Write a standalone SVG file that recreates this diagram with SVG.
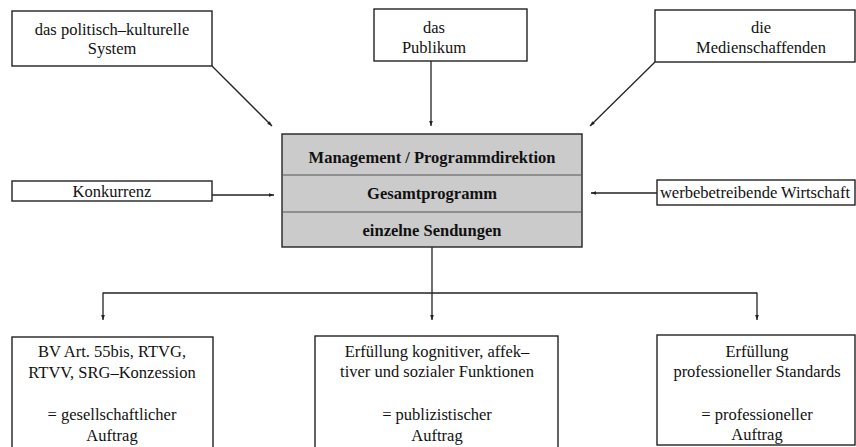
<svg xmlns="http://www.w3.org/2000/svg" width="856" height="447" viewBox="0 0 856 447">
<style>
.box{fill:#fff;stroke:#222;stroke-width:1.4}
.core{fill:#cbcbcb;stroke:#222;stroke-width:1.4}
.div{stroke:#555;stroke-width:1}
.c{fill:none;stroke:#222;stroke-width:1.3}
</style>
<defs>
<marker id="ah" viewBox="0 0 6 6" refX="6" refY="3" markerWidth="5" markerHeight="5" orient="auto" markerUnits="userSpaceOnUse">
<path d="M0,0.8 L6,3 L0,5.2 Z" fill="#222"/>
</marker>
</defs>
<g id="connectors">
<line class="c" x1="212" y1="66" x2="272" y2="126" marker-end="url(#ah)"/>
<line class="c" x1="431" y1="61" x2="431" y2="126" marker-end="url(#ah)"/>
<line class="c" x1="655" y1="62" x2="590" y2="126" marker-end="url(#ah)"/>
<line class="c" x1="212" y1="195" x2="274" y2="195" marker-end="url(#ah)"/>
<line class="c" x1="657" y1="193" x2="591" y2="193" marker-end="url(#ah)"/>
<line class="c" x1="432" y1="247" x2="432" y2="320" marker-end="url(#ah)"/>
<line class="c" x1="103" y1="293" x2="757" y2="293"/>
<line class="c" x1="103" y1="292.4" x2="103" y2="320" marker-end="url(#ah)"/>
<line class="c" x1="757" y1="292.4" x2="757" y2="320" marker-end="url(#ah)"/>
</g>
<g id="politisch">
<rect class="box" x="12" y="11" width="200" height="55"/>
<text x="112" y="35" font-family="Liberation Serif" font-size="16.5" text-anchor="middle" fill="#111">das politisch–kulturelle</text>
<text x="112" y="54" font-family="Liberation Serif" font-size="16.5" text-anchor="middle" fill="#111">System</text>
</g>
<g id="publikum">
<rect class="box" x="374" y="9" width="153" height="52"/>
<text x="434" y="33" font-family="Liberation Serif" font-size="16.5" text-anchor="middle" fill="#111">das</text>
<text x="434" y="53" font-family="Liberation Serif" font-size="16.5" text-anchor="middle" fill="#111">Publikum</text>
</g>
<g id="medienschaffende">
<rect class="box" x="655" y="10" width="200" height="52"/>
<text x="761" y="33" font-family="Liberation Serif" font-size="16.5" text-anchor="middle" fill="#111">die</text>
<text x="761" y="53" font-family="Liberation Serif" font-size="16.5" text-anchor="middle" fill="#111">Medienschaffenden</text>
</g>
<g id="konkurrenz">
<rect class="box" x="12" y="181" width="200" height="20"/>
<text x="112" y="197" font-family="Liberation Serif" font-size="16.5" text-anchor="middle" fill="#111">Konkurrenz</text>
</g>
<g id="wirtschaft">
<rect class="box" x="657" y="180" width="198" height="25"/>
<text x="755" y="198" font-family="Liberation Serif" font-size="16.5" text-anchor="middle" fill="#111">werbebetreibende Wirtschaft</text>
</g>
<g id="zentrum">
<rect class="core" x="282" y="134" width="300" height="113"/>
<line class="div" x1="282" y1="175" x2="582" y2="175"/>
<line class="div" x1="282" y1="212" x2="582" y2="212"/>
<text x="432" y="163" font-family="Liberation Serif" font-size="16.5" font-weight="bold" text-anchor="middle" fill="#111">Management / Programmdirektion</text>
<text x="432" y="199" font-family="Liberation Serif" font-size="16.5" font-weight="bold" text-anchor="middle" fill="#111">Gesamtprogramm</text>
<text x="432" y="236" font-family="Liberation Serif" font-size="16.5" font-weight="bold" text-anchor="middle" fill="#111">einzelne Sendungen</text>
</g>
<g id="gesellschaftlich">
<rect class="box" x="12" y="337" width="201" height="115"/>
<text x="112" y="357" font-family="Liberation Serif" font-size="16.5" text-anchor="middle" fill="#111">BV Art. 55bis, RTVG,</text>
<text x="112" y="378" font-family="Liberation Serif" font-size="16.5" text-anchor="middle" fill="#111">RTVV, SRG–Konzession</text>
<text x="112" y="420" font-family="Liberation Serif" font-size="16.5" text-anchor="middle" fill="#111">= gesellschaftlicher</text>
<text x="112" y="441" font-family="Liberation Serif" font-size="16.5" text-anchor="middle" fill="#111">Auftrag</text>
</g>
<g id="publizistisch">
<rect class="box" x="315" y="336" width="243" height="116"/>
<text x="437" y="357" font-family="Liberation Serif" font-size="16.5" text-anchor="middle" fill="#111">Erfüllung kognitiver, affek–</text>
<text x="437" y="377" font-family="Liberation Serif" font-size="16.5" text-anchor="middle" fill="#111">tiver und sozialer Funktionen</text>
<text x="437" y="420" font-family="Liberation Serif" font-size="16.5" text-anchor="middle" fill="#111">= publizistischer</text>
<text x="437" y="441" font-family="Liberation Serif" font-size="16.5" text-anchor="middle" fill="#111">Auftrag</text>
</g>
<g id="professionell">
<rect class="box" x="657" y="335" width="198" height="110"/>
<text x="757" y="357" font-family="Liberation Serif" font-size="16.5" text-anchor="middle" fill="#111">Erfüllung</text>
<text x="757" y="377" font-family="Liberation Serif" font-size="16.5" text-anchor="middle" fill="#111">professioneller Standards</text>
<text x="757" y="420" font-family="Liberation Serif" font-size="16.5" text-anchor="middle" fill="#111">= professioneller</text>
<text x="757" y="440" font-family="Liberation Serif" font-size="16.5" text-anchor="middle" fill="#111">Auftrag</text>
</g>
</svg>
